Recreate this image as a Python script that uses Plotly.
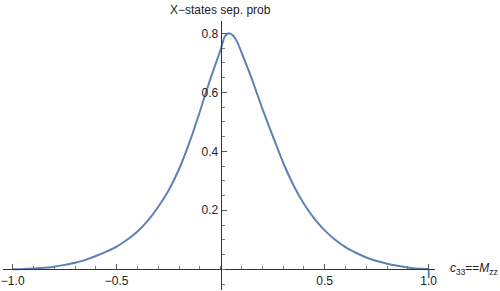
import plotly.graph_objects as go

# Data
c33 = [-1.0, -0.95, -0.9, -0.85, -0.8, -0.75, -0.7, -0.65, -0.6, -0.55, -0.5,
       -0.45, -0.4, -0.35, -0.3, -0.25, -0.2, -0.15, -0.1, -0.05, 0.0, 0.02,
       0.04, 0.06, 0.08, 0.1, 0.15, 0.2, 0.25, 0.3, 0.35, 0.4, 0.45, 0.5, 0.55,
       0.6, 0.65, 0.7, 0.75, 0.8, 0.85, 0.9, 0.95, 0.998, 1.0]
prob = [0.000, 0.001, 0.003, 0.005, 0.009, 0.015, 0.022, 0.032, 0.045, 0.060, 0.077,
        0.100, 0.128, 0.165, 0.212, 0.268, 0.340, 0.430, 0.535, 0.645, 0.745, 0.790,
        0.800, 0.792, 0.770, 0.735, 0.645, 0.545, 0.452, 0.362, 0.285, 0.222, 0.172, 0.132, 0.100,
        0.075, 0.056, 0.040, 0.028, 0.019, 0.012, 0.006, 0.002, 0.000, -0.030]

x_tickvals = [-1.0, -0.5, 0.5, 1.0]
x_ticktext = ["\u22121.0", "\u22120.5", "0.5", "1.0"]
y_tickvals = [0.2, 0.4, 0.6, 0.8]
y_ticktext = ["0.2", "0.4", "0.6", "0.8"]

xmin, xmax = -1.0467, 1.0304
ymin, ymax = -0.0702, 0.8417

fig = go.Figure()
fig.add_trace(go.Scatter(
    x=c33, y=prob, mode="lines",
    line=dict(color="#5E81B5", width=2, shape="spline", smoothing=0.5),
    hoverinfo="skip", showlegend=False, cliponaxis=True,
))

xpos = (0 - xmin) / (xmax - xmin)
ypos = (0 - ymin) / (ymax - ymin)
axcol = "#333333"
tickfont = dict(family="Liberation Sans, Arial, sans-serif", size=12, color="#222222")

fig.update_layout(
    width=500, height=291,
    margin=dict(l=3, r=65, t=21, b=1),
    paper_bgcolor="white", plot_bgcolor="white",
    xaxis=dict(
        range=[xmin, xmax], showgrid=False, zeroline=False, automargin=False,
        showline=True, linecolor=axcol, linewidth=1,
        anchor="free", position=ypos,
        tickmode="array", tickvals=x_tickvals, ticktext=x_ticktext,
        ticks="inside", ticklen=5, tickcolor="#555555", tickwidth=1,
        tickfont=tickfont,
        minor=dict(ticks="inside", ticklen=3, tickcolor="#777777", dtick=0.1, tick0=0, showgrid=False),
    ),
    yaxis=dict(
        range=[ymin, ymax], showgrid=False, zeroline=False, automargin=False,
        showline=True, linecolor=axcol, linewidth=1,
        anchor="free", position=xpos,
        tickmode="array", tickvals=y_tickvals, ticktext=y_ticktext,
        ticks="inside", ticklen=5, tickcolor="#555555", tickwidth=1,
        tickfont=tickfont,
        minor=dict(ticks="inside", ticklen=3, tickcolor="#777777", dtick=0.05, tick0=0, showgrid=False),
    ),
    annotations=[
        dict(text="X\u2212states sep. prob", xref="paper", yref="paper",
             x=xpos, y=1.041, xanchor="center", yanchor="middle", showarrow=False,
             font=dict(family="Liberation Sans, Arial, sans-serif", size=12, color="#222222")),
        dict(text="<i>c</i><sub>33</sub>==<i>M</i><sub>zz</sub>", xref="paper", yref="paper",
             x=1.030, y=ypos, xanchor="left", yanchor="middle", showarrow=False,
             font=dict(family="Liberation Sans, Arial, sans-serif", size=12, color="#222222")),
    ],
)

fig.write_html("out.html", config={"displayModeBar": False},
               post_script="document.body.style.margin='0';document.body.style.overflow='hidden';")
